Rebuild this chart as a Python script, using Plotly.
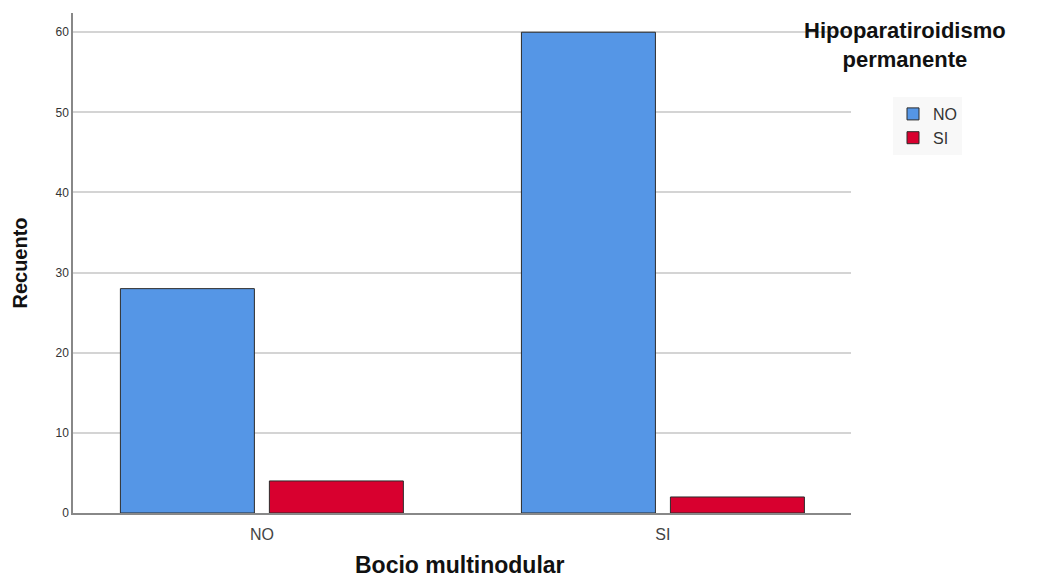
import plotly.graph_objects as go

categories = ["NO", "SI"]
series_names = ["NO", "SI"]
counts_no = [28, 4]    # Bocio multinodular = NO
counts_si = [60, 2]    # Bocio multinodular = SI
y_ticks = [0, 10, 20, 30, 40, 50, 60]

colors = ["#5596e6", "#d8002f"]

# reorganise counts by legend series (Hipoparatiroidismo permanente)
series_values = [[counts_no[0], counts_si[0]], [counts_no[1], counts_si[1]]]

fig = go.Figure()
for name, vals, col in zip(series_names, series_values, colors):
    fig.add_trace(go.Bar(
        x=[0, 1], y=vals, name=name,
        marker=dict(color=col, line=dict(color="#2b2b2b", width=1)),
    ))

fig.update_layout(
    width=1054, height=577,
    margin=dict(l=73, r=203, t=13, b=64),
    plot_bgcolor="white", paper_bgcolor="white",
    barmode="group", bargap=0.257, bargroupgap=0.1007,
    font=dict(family="Liberation Sans, Arial, sans-serif", color="#222"),
    showlegend=True,
    legend=dict(
        x=1.054, y=0.832, xanchor="left", yanchor="top",
        bgcolor="#f8f8f8", font=dict(size=16, color="#333"),
        itemwidth=30, tracegroupgap=0,
        title=dict(text=""),
    ),
    xaxis=dict(
        range=[-0.471, 1.469], automargin=False,
        tickvals=[0, 1], ticktext=categories,
        tickfont=dict(size=16, color="#444"), ticklabelstandoff=6,
        showline=True, linecolor="#888", linewidth=1.5,
        showgrid=False, zeroline=False, ticks="",
    ),
    yaxis=dict(
        range=[0, 62.4], tickvals=y_ticks, automargin=False,
        tickfont=dict(size=12, color="#333"),
        showline=True, linecolor="#888", linewidth=1.5,
        showgrid=True, gridcolor="#d4d4d4", gridwidth=1.5,
        zeroline=False, ticks="", ticklen=0,
        title=dict(text="<b>Recuento</b>", font=dict(size=20, color="#111"), standoff=22),
    ),
    annotations=[
        dict(
            text="<b>Hipoparatiroidismo<br>permanente</b>",
            xref="paper", yref="paper", x=1.069, y=0.995, xanchor="center", yanchor="top",
            showarrow=False, font=dict(size=22, color="#111"), align="center",
        ),
        dict(
            text="<b>Bocio multinodular</b>",
            xref="paper", yref="paper", x=0.497, y=0, xanchor="center", yanchor="top",
            yshift=-37, showarrow=False, font=dict(size=23, color="#111"),
        ),
    ],
    shapes=[dict(
        type="rect", layer="between", xref="paper", yref="y",
        x0=(757 - 73) / 778, x1=1.0, y0=59, y1=61,
        fillcolor="white", line=dict(width=0),
    )],
)

fig.write_html("out.html")
